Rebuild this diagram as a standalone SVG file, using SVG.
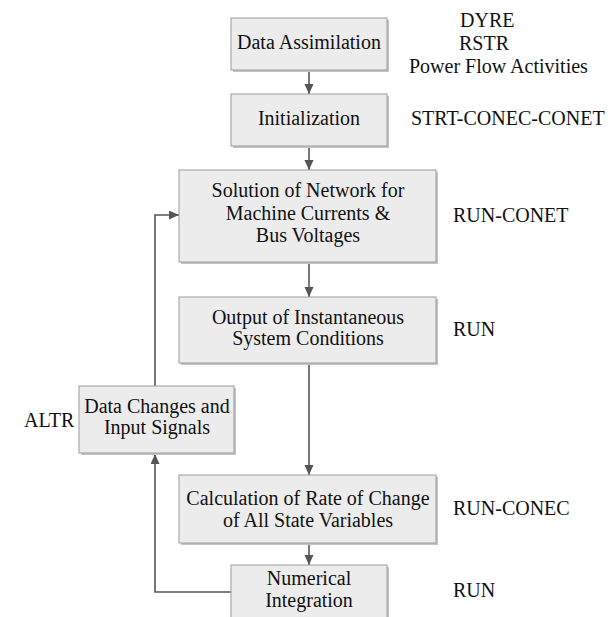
<svg xmlns="http://www.w3.org/2000/svg" width="608" height="617" viewBox="0 0 608 617">
<style>
.shadow{fill:#c4c4c4;}
.box{fill:#ececec;stroke:#9c9c9c;stroke-width:1;}
.t{font-family:'Liberation Serif','Times New Roman',Tinos,'Noto Serif','DejaVu Serif',serif;font-size:20px;fill:#111;}
.c{text-anchor:middle;}
.conn{fill:none;stroke:#555;stroke-width:1.6;}
</style>
<defs>
<marker id="ah" markerUnits="userSpaceOnUse" markerWidth="10" markerHeight="10" refX="10" refY="4.5" orient="auto">
<path d="M0,0 L10,4.5 L0,9 z" fill="#555"/>
</marker>
</defs>
<rect width="608" height="617" fill="#fff"/>

<g id="connectors">
<line class="conn" x1="309" y1="70" x2="309" y2="94" marker-end="url(#ah)"/>
<line class="conn" x1="309" y1="147" x2="309" y2="170" marker-end="url(#ah)"/>
<line class="conn" x1="309" y1="262" x2="309" y2="297" marker-end="url(#ah)"/>
<line class="conn" x1="309" y1="364" x2="309" y2="475" marker-end="url(#ah)"/>
<line class="conn" x1="309" y1="543" x2="309" y2="565" marker-end="url(#ah)"/>
<polyline class="conn" points="231,592 155,592 155,454" marker-end="url(#ah)"/>
<polyline class="conn" points="155,386 155,215 179,215" marker-end="url(#ah)"/>
</g>

<g font-family="Liberation Serif, serif">
<g id="data-assimilation">
<rect class="shadow" x="233" y="20" width="156" height="52"/>
<rect class="box" x="231" y="18" width="156" height="52"/>
<text class="t c" x="309" y="49">Data Assimilation</text>
</g>

<g id="initialization">
<rect class="shadow" x="233" y="96" width="156" height="52"/>
<rect class="box" x="231" y="94" width="156" height="52"/>
<text class="t c" x="309" y="125">Initialization</text>
</g>

<g id="solution">
<rect class="shadow" x="181" y="172" width="257" height="92"/>
<rect class="box" x="179" y="170" width="257" height="92"/>
<text class="t c" x="308" y="197">Solution of Network for</text>
<text class="t c" x="308" y="220">Machine Currents &amp;</text>
<text class="t c" x="308" y="242">Bus Voltages</text>
</g>

<g id="output">
<rect class="shadow" x="181" y="299" width="257" height="66"/>
<rect class="box" x="179" y="297" width="257" height="66"/>
<text class="t c" x="308" y="324">Output of Instantaneous</text>
<text class="t c" x="308" y="345">System Conditions</text>
</g>

<g id="data-changes">
<rect class="shadow" x="81" y="388" width="155" height="67"/>
<rect class="box" x="79" y="386" width="155" height="67"/>
<text class="t c" x="157" y="413">Data Changes and</text>
<text class="t c" x="157" y="434">Input Signals</text>
</g>

<g id="calculation">
<rect class="shadow" x="181" y="477" width="257" height="68"/>
<rect class="box" x="179" y="475" width="257" height="68"/>
<text class="t c" x="308" y="505">Calculation of Rate of Change</text>
<text class="t c" x="308" y="527">of All State Variables</text>
</g>

<g id="numerical-integration">
<rect class="shadow" x="233" y="567" width="156" height="70"/>
<rect class="box" x="231" y="565" width="156" height="70"/>
<text class="t c" x="309" y="585">Numerical</text>
<text class="t c" x="309" y="607">Integration</text>
</g>

<g id="labels">
<text class="t" x="460" y="27">DYRE</text>
<text class="t" x="459" y="50">RSTR</text>
<text class="t" x="409" y="73">Power Flow Activities</text>
<text class="t" x="411" y="125">STRT-CONEC-CONET</text>
<text class="t" x="453" y="222">RUN-CONET</text>
<text class="t" x="453" y="336">RUN</text>
<text class="t" x="453" y="515">RUN-CONEC</text>
<text class="t" x="453" y="597">RUN</text>
<text class="t" x="24" y="427">ALTR</text>
</g>
</g>
</svg>
